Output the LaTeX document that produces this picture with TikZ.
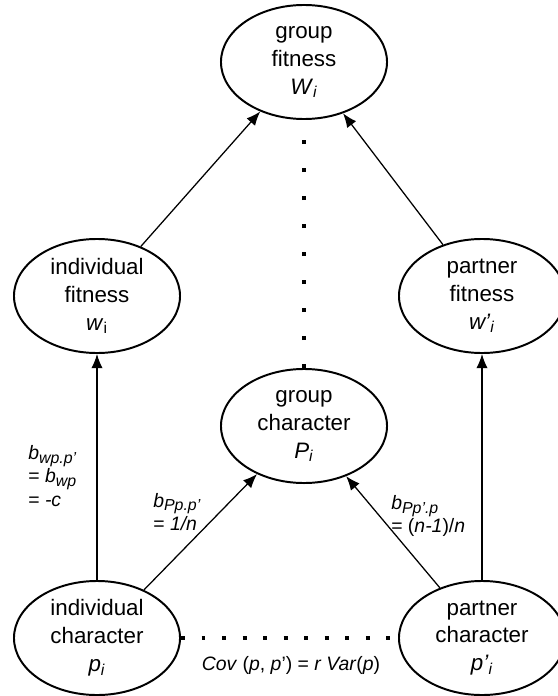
\documentclass[tikz,border=0pt]{standalone}
\usepackage{fontspec}
\setmainfont{Liberation Sans}
\usetikzlibrary{arrows.meta, shapes.geometric}

\newcommand{\lo}[1]{\raisebox{-0.35ex}{\scalebox{0.82}{\textit{#1}}}}

\begin{document}
\begin{tikzpicture}[
  x=0.025cm, y=-0.025cm,
  var/.style={ellipse, draw, line width=1.4pt, inner sep=0pt, minimum width=4.15cm, minimum height=2.85cm, align=center, font=\fontsize{15.9}{19.8}\selectfont},
  link/.style={-{Latex[length=10pt, width=8pt]}, line width=0.9pt},
  corr/.style={line width=2.8pt, dash pattern=on 2.8pt off #1},
  coef/.style={font=\fontsize{13.8}{16.5}\selectfont, align=left, inner sep=0pt}
]
  \useasboundingbox (0,0) rectangle (558,696);

  \node[var] (GF) at (304,62)  {group\\fitness\\\textit{W}\textsubscript{\textit{i}}};
  \node[var] (IF) at (97,296)  {individual\\fitness\\\textit{w}\textsubscript{i}};
  \node[var] (PF) at (482,296) {partner\\fitness\\\textit{w'}\textsubscript{\textit{i}}};
  \node[var] (GC) at (304,426) {group\\character\\\textit{P}\textsubscript{\textit{i}}};
  \node[var] (IC) at (97,638)  {individual\\character\\\textit{p}\textsubscript{\textit{i}}};
  \node[var] (PC) at (482,638) {partner\\character\\\textit{p'}\textsubscript{\textit{i}}};

  \draw[link] (IC) -- (IF);
  \draw[link] (PC) -- (PF);
  \draw[link] (IF) -- (GF);
  \draw[link] (PF) -- (GF);
  \draw[link] (IC) -- (GC);
  \draw[link] (PC) -- (GC);
  \draw[corr=17.1pt] (GC) -- (GF);
  \draw[corr=11.8pt] (IC) -- (PC);

  \node[coef, anchor=west] (bw) at (28,476) {\textit{b}\lo{wp.p'}\\= \textit{b}\lo{wp}\\= \textit{-c}};
  \node[coef, anchor=west] (bP) at (153,512) {\textit{b}\lo{Pp.p'}\\= \textit{1/n}};
  \node[coef, anchor=west] (bQ) at (391,516) {\textit{b}\lo{Pp'.p}\\= (\textit{n-1})/\textit{n}};
  \node[coef] (cv) at (291,665) {\textit{Cov} (\textit{p}, \textit{p}') = \textit{r Var}(\textit{p})};
\end{tikzpicture}
\end{document}
